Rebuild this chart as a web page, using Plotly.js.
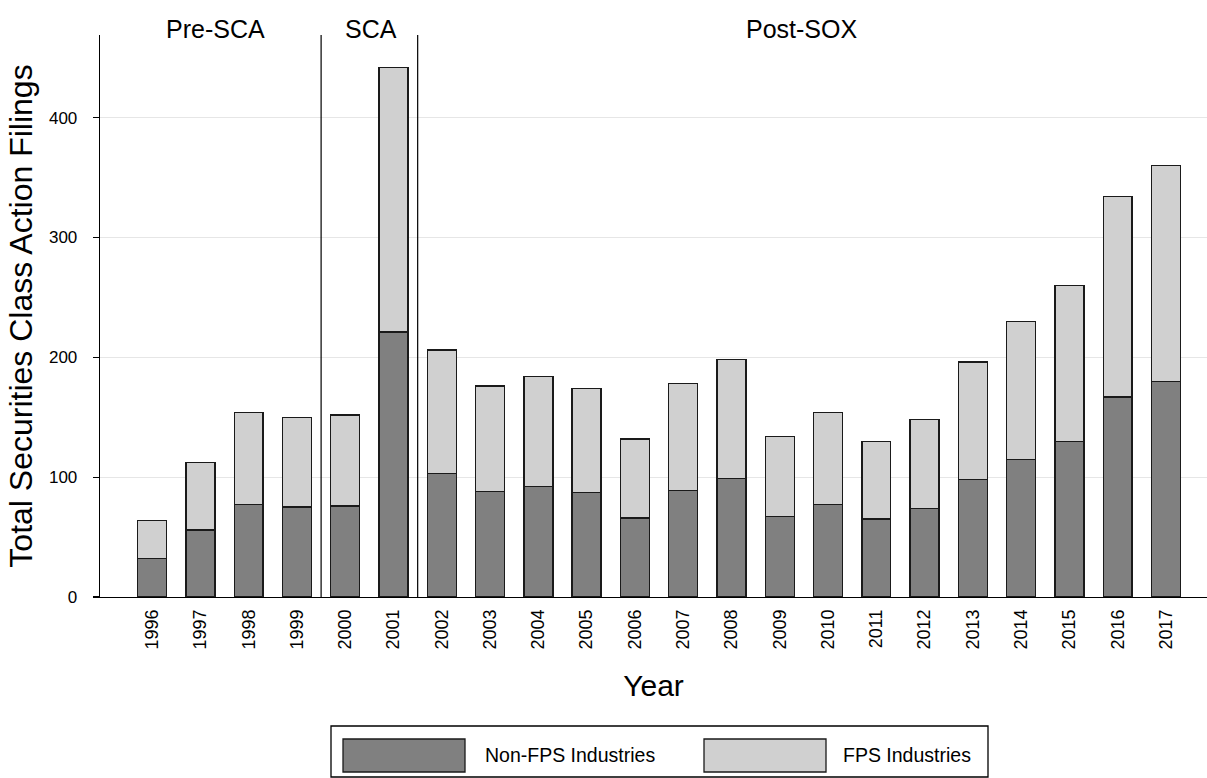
<!DOCTYPE html>
<html>
<head>
<meta charset="utf-8">
<script src="https://cdn.plot.ly/plotly-3.0.1.min.js"></script>
<style>html,body{margin:0;padding:0;background:#fff;}#chart{width:1207px;height:778px;}</style>
</head>
<body>
<div id="chart"></div>
<script>
const years = [1996,1997,1998,1999,2000,2001,2002,2003,2004,2005,2006,2007,2008,2009,2010,2011,2012,2013,2014,2015,2016,2017];
const yearLabels = years.map(String);
const nonFPS = [32,56,77,75,76,221,103,88,92,87,66,89,99,67,77,65,74,98,115,130,167,180];
const fps    = [32,56,77,75,76,221,103,88,92,87,66,89,99,67,77,65,74,98,115,130,167,180];
const seriesNames = ['Non-FPS Industries','FPS Industries'];
const periodLabels = ['Pre-SCA','SCA','Post-SOX'];
const periodLabelX = [1997.31, 2000.53, 2009.46];
const periodBreaks = [1999.5, 2001.5];

const W = 1207, H = 778;
const M = {l:100, r:0, t:35, b:181};
const PW = W - M.l - M.r, PH = H - M.t - M.b;
const px = x => (x - M.l) / PW;
const py = y => (H - M.b - y) / PH;

const FONT = 'Liberation Sans, Arial, Helvetica, sans-serif';
const darkFill = '#808080', lightFill = '#d0d0d0', edge = '#1a1a1a';

const traces = [
  {type:'bar', name:seriesNames[0], x:years, y:nonFPS, width:0.6,
   marker:{color:darkFill, line:{color:edge, width:1.4}}, hoverinfo:'x+y'},
  {type:'bar', name:seriesNames[1], x:years, y:fps, width:0.6,
   marker:{color:lightFill, line:{color:edge, width:1.4}}, hoverinfo:'x+y'}
];

const shapes = periodBreaks.map(b => ({type:'line', xref:'x', yref:'paper', x0:b, x1:b, y0:0, y1:1,
  line:{color:'#000', width:1.2}, layer:'above'}));
shapes.push({type:'rect', xref:'paper', yref:'paper', x0:px(331), x1:px(988), y0:py(726), y1:py(777),
  line:{color:'#000', width:1.3}, fillcolor:'rgba(0,0,0,0)'});
shapes.push({type:'rect', xref:'paper', yref:'paper', x0:px(343), x1:px(465), y0:py(739), y1:py(772),
  line:{color:edge, width:1.3}, fillcolor:darkFill});
shapes.push({type:'rect', xref:'paper', yref:'paper', x0:px(704), x1:px(826), y0:py(739), y1:py(772),
  line:{color:edge, width:1.3}, fillcolor:lightFill});

const annotations = periodLabels.map((t,i) => ({text:t, xref:'x', yref:'paper', x:periodLabelX[i], y:1,
  yanchor:'middle', yshift:6, showarrow:false, font:{family:FONT, size:25, color:'#000'}}));
annotations.push({text:seriesNames[0], xref:'paper', yref:'paper', x:px(483), y:py(755), xanchor:'left', yanchor:'middle',
  showarrow:false, font:{family:FONT, size:19.5, color:'#000'}});
annotations.push({text:seriesNames[1], xref:'paper', yref:'paper', x:px(841), y:py(755), xanchor:'left', yanchor:'middle',
  showarrow:false, font:{family:FONT, size:19.5, color:'#000'}});

const layout = {
  width:W, height:H, margin:M, barmode:'stack', showlegend:false,
  paper_bgcolor:'#fff', plot_bgcolor:'#fff',
  font:{family:FONT, color:'#000'},
  xaxis:{range:[1994.92, 2017.85], tickmode:'array', tickvals:years, ticktext:yearLabels,
    tickangle:-90, ticks:'', showgrid:false, zeroline:false, showline:true, linecolor:'#000', linewidth:1.3,
    tickfont:{family:FONT, size:18, color:'#000'}, ticklabelstandoff:4,
    title:{text:'Year', font:{family:FONT, size:30, color:'#000'}, standoff:26}},
  yaxis:{range:[0,469], tickvals:[0,100,200,300,400], ticks:'outside', ticklen:6, tickcolor:'#000', tickwidth:1.3,
    showgrid:true, gridcolor:'#e6e6e6', gridwidth:1, zeroline:false, showline:true, linecolor:'#000', linewidth:1.3,
    tickfont:{family:FONT, size:17, color:'#000'}, ticklabelstandoff:12,
    title:{text:'Total Securities Class Action Filings', font:{family:FONT, size:32, color:'#000'}, standoff:6}},
  shapes:shapes, annotations:annotations
};

Plotly.newPlot('chart', traces, layout, {displayModeBar:false, staticPlot:true});
</script>
</body>
</html>
